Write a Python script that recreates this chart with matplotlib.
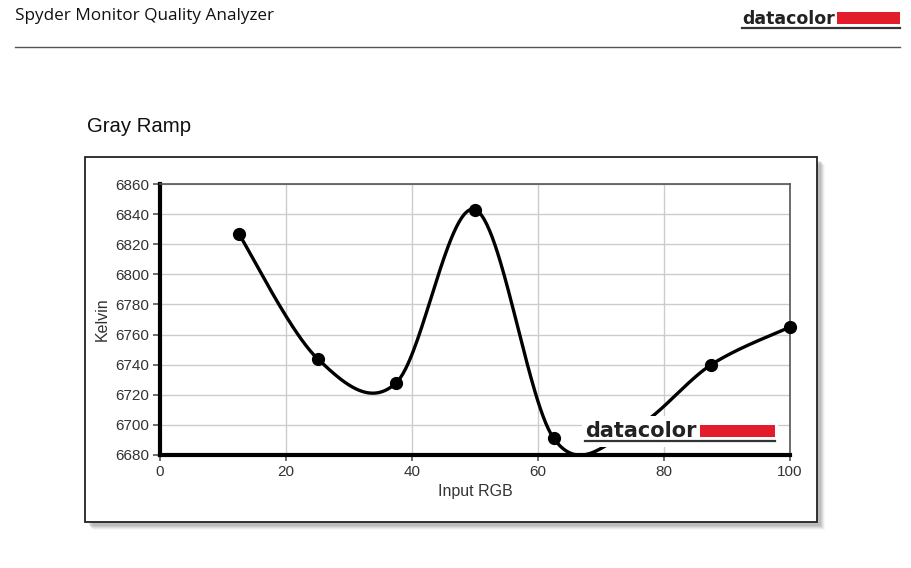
import numpy as np
import matplotlib
matplotlib.use('Agg')
import matplotlib.pyplot as plt
from matplotlib.patches import Rectangle
from matplotlib.lines import Line2D

# ---- data ----
input_rgb = [12.5, 25, 37.5, 50, 62.5, 75, 87.5, 100]
kelvin = [6827, 6744, 6728, 6843, 6691, 6697, 6740, 6765]
x_ticks = [0, 20, 40, 60, 80, 100]
y_ticks = [6680, 6700, 6720, 6740, 6760, 6780, 6800, 6820, 6840, 6860]

W, H = 911, 568
fig = plt.figure(figsize=(W / 100, H / 100), dpi=100)
fig.patch.set_facecolor('white')


def fx(x):
    return x / W


def fy(y):
    return 1 - y / H


def rect_px(x0, y0, x1, y1, **kw):
    r = Rectangle((fx(x0), fy(y1)), fx(x1) - fx(x0), fy(y0) - fy(y1),
                  transform=fig.transFigure, **kw)
    fig.add_artist(r)
    return r


def line_px(xs, ys, **kw):
    l = Line2D([fx(x) for x in xs], [fy(y) for y in ys], transform=fig.transFigure, **kw)
    fig.add_artist(l)
    return l


def logo(x0, yb, text_size, bar_x0, bar_x1, bar_y0, bar_y1, ul_y, ul_x1, z=5):
    fig.text(fx(x0), fy(yb), 'datacolor', fontsize=text_size, fontweight='bold',
             family='DejaVu Sans', color='#222222', ha='left', va='baseline', zorder=z)
    rect_px(bar_x0, bar_y0, bar_x1, bar_y1, facecolor='#e21c2a', edgecolor='none', zorder=z)
    line_px([x0, ul_x1], [ul_y, ul_y], color='#333333', lw=1.6, zorder=z)


# ---- page header ----
fig.text(fx(15), fy(16.5), 'Spyder Monitor Quality Analyzer', fontsize=12.3,
         family='Open Sans', color='#111111', ha='left', va='center')
line_px([15, 900], [47, 47], color='#555555', lw=1.0)
logo(742, 24, 12.5, 837, 900, 12, 24, 27.5, 900)

# ---- section title ----
fig.text(fx(87), fy(127), 'Gray Ramp', fontsize=14.7, family='Liberation Sans',
         color='#111111', ha='left', va='center')

# ---- chart box with shadow ----
for i, a in enumerate([0.06, 0.09, 0.12, 0.15, 0.18]):
    off = 8 - i
    rect_px(85 + off, 157 + off, 817 + off, 522 + off, facecolor='#777777',
            alpha=a, edgecolor='none', zorder=0)
rect_px(85, 157, 817, 522, facecolor='white', edgecolor='#222222', lw=1.3, zorder=1)

# ---- axes ----
L, R, T, B = 160, 790, 184, 455
ax = fig.add_axes([fx(L), fy(B), fx(R) - fx(L), fy(T) - fy(B)], zorder=2)
ax.set_facecolor('white')


def catmull_rom(xs, ys, n=60):
    xs = np.asarray(xs, float)
    ys = np.asarray(ys, float)
    px = np.concatenate([[xs[0]], xs, [xs[-1]]])
    py = np.concatenate([[ys[0]], ys, [ys[-1]]])
    t = np.linspace(0, 1, n)
    ox, oy = [], []
    for i in range(len(xs) - 1):
        for arr, out in ((px, ox), (py, oy)):
            p0, p1, p2, p3 = arr[i], arr[i + 1], arr[i + 2], arr[i + 3]
            out.append(0.5 * (2 * p1 + (-p0 + p2) * t + (2 * p0 - 5 * p1 + 4 * p2 - p3) * t ** 2
                              + (-p0 + 3 * p1 - 3 * p2 + p3) * t ** 3))
    return np.concatenate(ox), np.concatenate(oy)


sx, sy = catmull_rom(input_rgb, kelvin)
ax.plot(sx, sy, color='black', lw=2.4, zorder=3, solid_capstyle='round', clip_on=False)
ax.plot(input_rgb, kelvin, 'o', color='black', ms=8.5, zorder=4, clip_on=False)

ax.set_xlim(0, 100)
ax.set_ylim(6680, 6860)
ax.set_xticks(x_ticks)
ax.set_yticks(y_ticks)
ax.grid(True, color='#cccccc', lw=1.0)
ax.set_axisbelow(True)
for s in ['top', 'right']:
    ax.spines[s].set_color('#555555')
    ax.spines[s].set_linewidth(1.2)
for s in ['left', 'bottom']:
    ax.spines[s].set_color('black')
    ax.spines[s].set_linewidth(3.0)
ax.tick_params(axis='both', direction='out', length=5, width=1.2, color='#555555',
               labelsize=11, labelcolor='#333333', pad=3)
ax.tick_params(axis='x', length=4)
for lab in ax.get_xticklabels() + ax.get_yticklabels():
    lab.set_family('Liberation Sans')
ax.set_xlabel('Input RGB', fontsize=11.5, family='Liberation Sans', color='#333333', labelpad=4)
ax.set_ylabel('Kelvin', fontsize=11.5, family='Liberation Sans', color='#333333', labelpad=4)

# ---- inner watermark logo ----
wx0, wx1 = 582, 778
wb = Rectangle((fx(wx0), fy(447)), fx(wx1) - fx(wx0), fy(416) - fy(447),
               transform=fig.transFigure, facecolor='white', edgecolor='none', zorder=5)
fig.add_artist(wb)
logo(585, 437, 15, 700, 775, 425, 437, 441, 775, z=6)

fig.savefig('out.png', dpi=100, facecolor='white')
